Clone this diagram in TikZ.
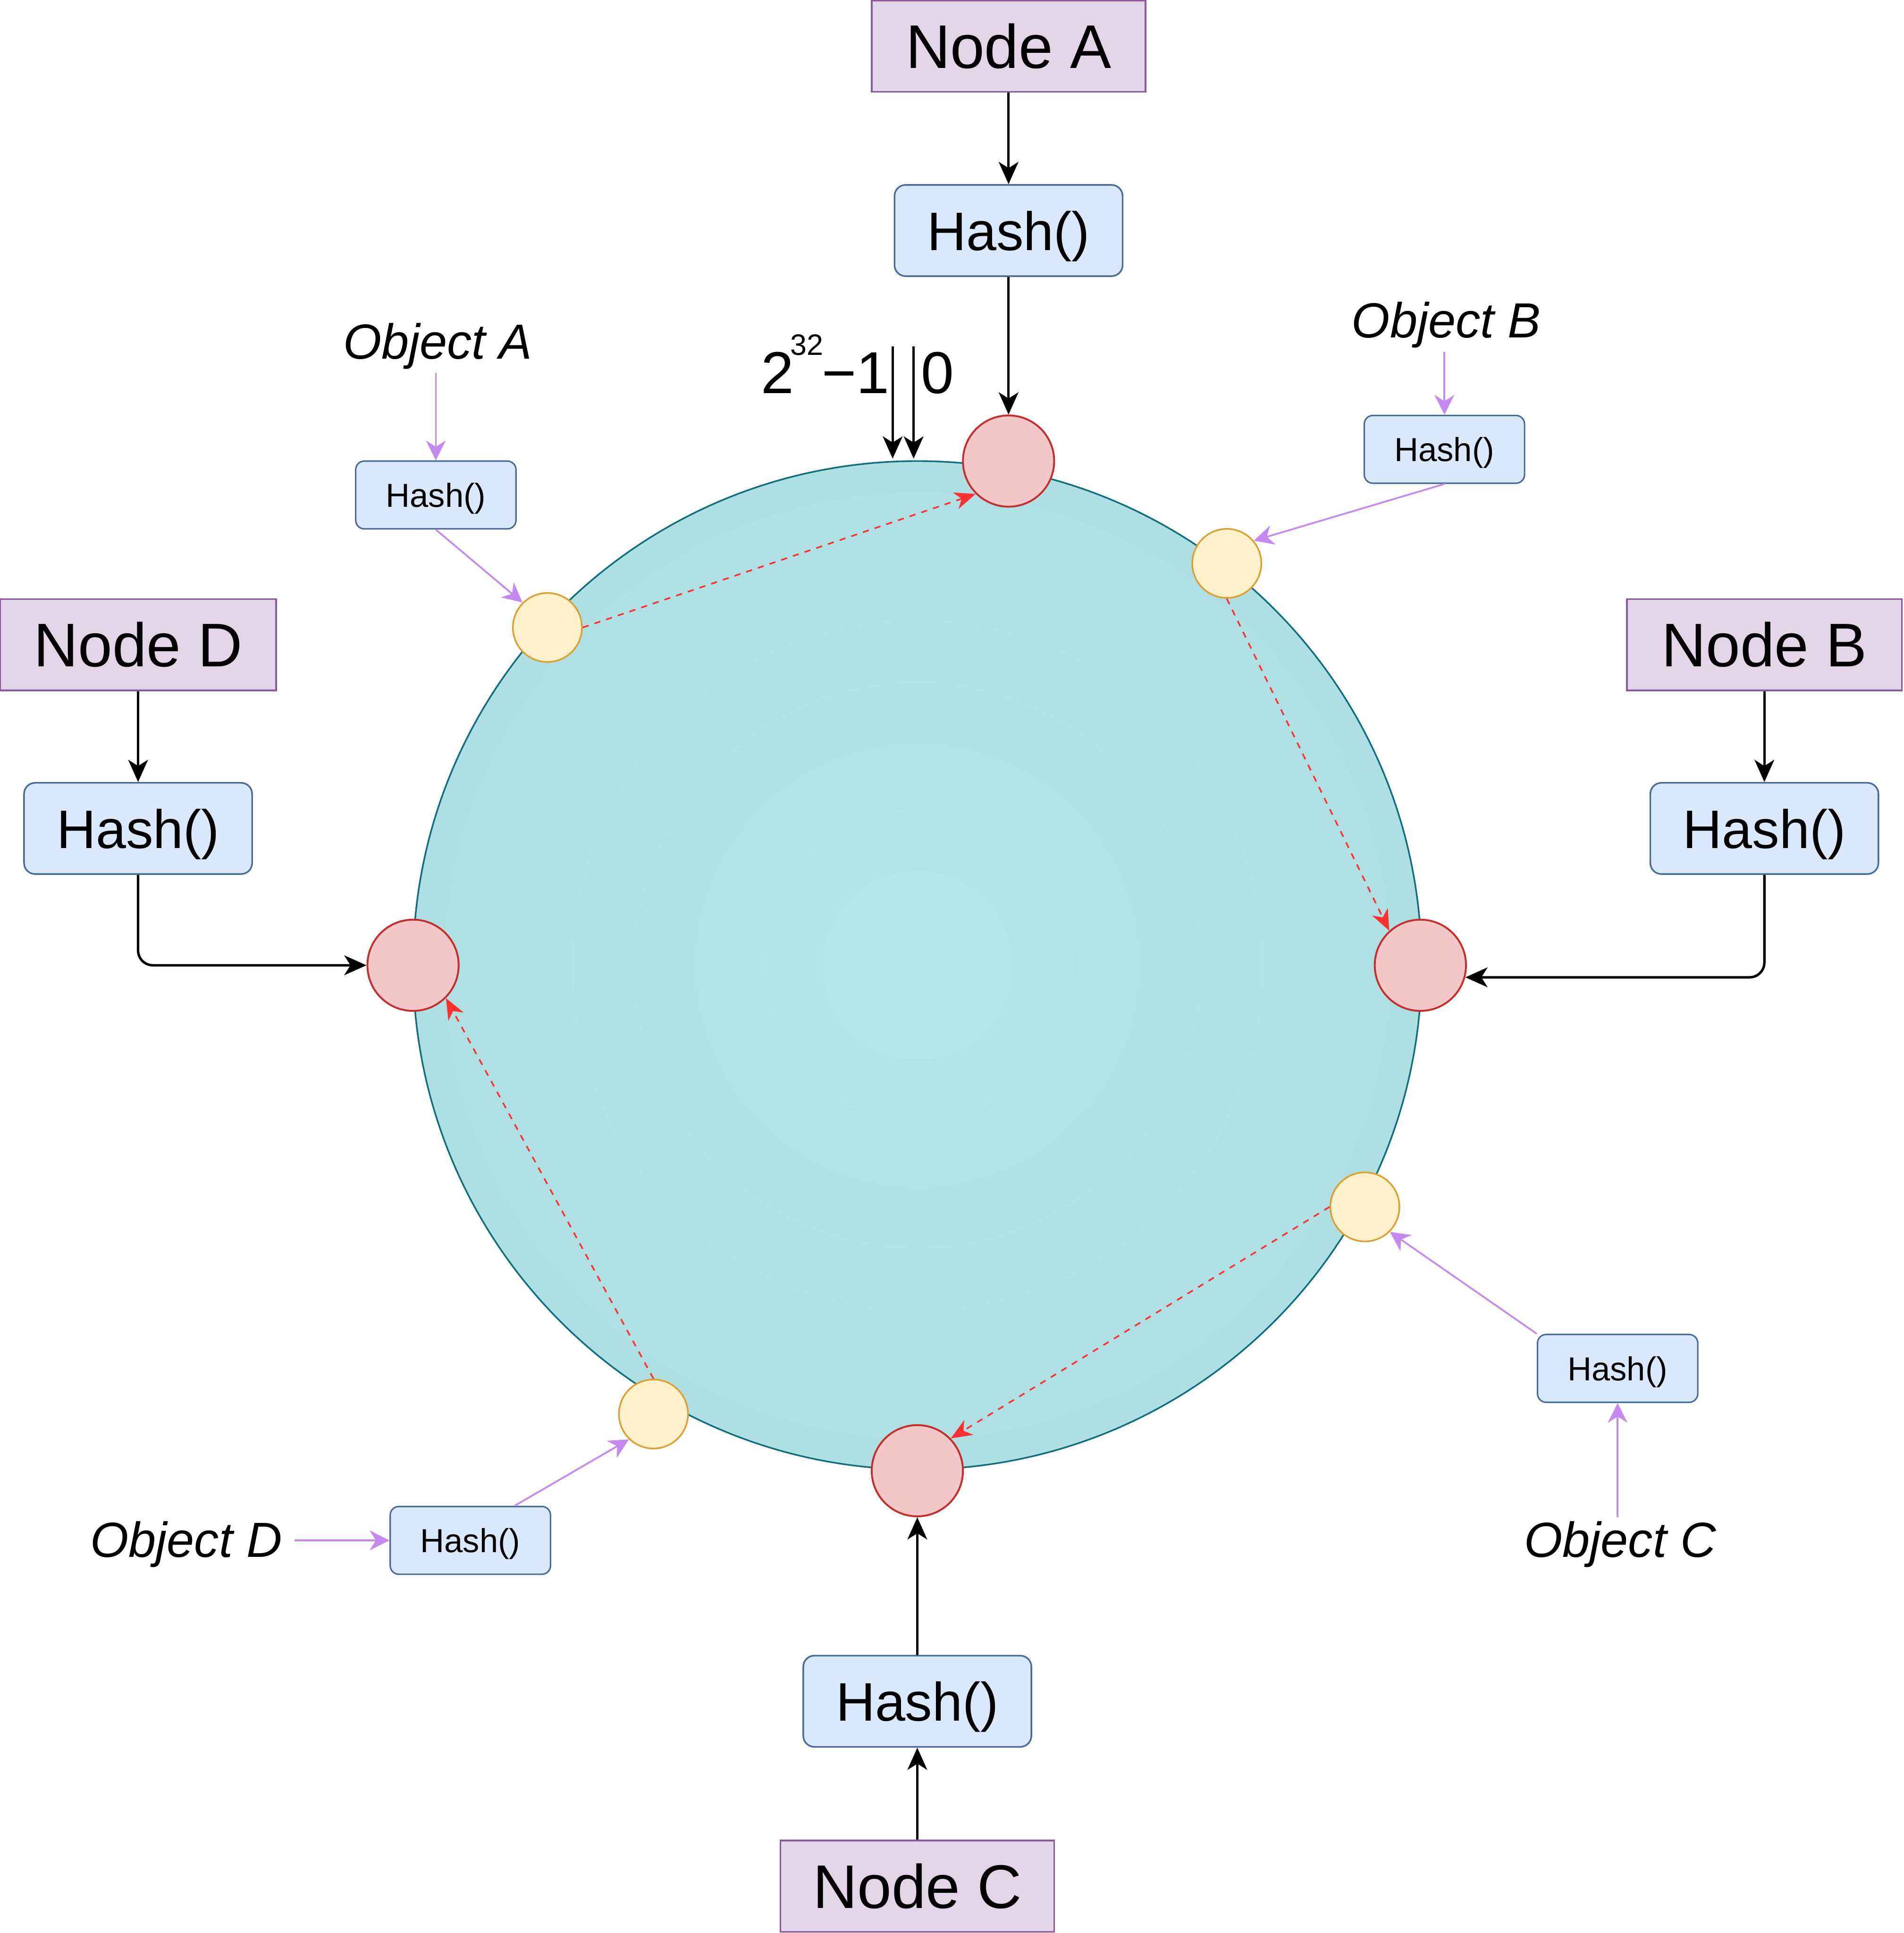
\documentclass[tikz,border=0pt]{standalone}
\usepackage{fontspec}
\setmainfont{Liberation Sans}
\usetikzlibrary{arrows.meta}
\definecolor{ringfillin}{HTML}{B6E8EB}
\definecolor{ringfillout}{HTML}{AEDFE3}
\definecolor{ringline}{HTML}{0E6E7C}
\definecolor{nodefill}{HTML}{E1D5E7}
\definecolor{nodeline}{HTML}{8E5A9E}
\definecolor{hashfill}{HTML}{DAE8FC}
\definecolor{hashline}{HTML}{4A6A9A}
\definecolor{redfill}{HTML}{F4C8C8}
\definecolor{redline}{HTML}{C62E2E}
\definecolor{yelfill}{HTML}{FFF0CC}
\definecolor{yelline}{HTML}{DDA030}
\definecolor{purline}{HTML}{C58AF0}
\definecolor{dashred}{HTML}{FF3030}
\begin{document}
\begin{tikzpicture}[x=1pt,y=-1pt,
  nodebox/.style={draw=nodeline, fill=nodefill, line width=1.3pt, minimum width=222pt, minimum height=74pt, inner sep=0pt, font=\fontsize{50}{60}\selectfont},
  bighash/.style={draw=hashline, fill=hashfill, line width=1.3pt, rounded corners=9pt, minimum width=185pt, minimum height=74pt, inner sep=0pt, text depth=0pt, font=\fontsize{44}{52}\selectfont},
  smallhash/.style={draw=hashline, fill=hashfill, line width=1.2pt, rounded corners=7pt, minimum width=130pt, minimum height=55pt, inner sep=0pt, text depth=0pt, font=\fontsize{27}{32}\selectfont},
  objlabel/.style={inner sep=3pt, font=\fontsize{40}{46}\selectfont\itshape, anchor=base},
  rednode/.style={circle, draw=redline, fill=redfill, line width=1.5pt, minimum size=74pt, inner sep=0pt},
  yelnode/.style={circle, draw=yelline, fill=yelfill, line width=1.3pt, minimum size=56pt, inner sep=0pt},
  blk/.style={draw=black, line width=2pt, -{Stealth[length=18pt,width=16pt,inset=5pt]}},
  pur/.style={draw=purline, line width=1.4pt, -{Stealth[length=16pt,width=16pt,inset=5pt]}},
  reddash/.style={draw=dashred, line width=1.3pt, dash pattern=on 5pt off 5pt, -{Stealth[length=17pt,width=14pt,inset=5pt]}}
]
\useasboundingbox (0,0) rectangle (1544,1568);

% ring
\node[circle, minimum size=818pt, inner sep=0pt, draw=ringline, line width=1.3pt,
      inner color=ringfillin, outer color=ringfillout] (ring) at (744,783) {};

% server nodes
\node[nodebox] (nA) at (818,37.5) {Node A};
\node[nodebox, minimum width=224pt] (nD) at (112,523) {Node D};
\node[nodebox, minimum width=223pt] (nB) at (1431,523) {Node B};
\node[nodebox] (nC) at (744,1530) {Node C};

% big hash boxes
\node[bighash] (hA) at (818,187) {Hash()};
\node[bighash] (hD) at (112,672) {Hash()};
\node[bighash] (hB) at (1431,672) {Hash()};
\node[bighash] (hC) at (744,1380) {Hash()};

% red nodes on ring
\node[rednode] (rA) at (818,374) {};
\node[rednode] (rR) at (1152,783) {};
\node[rednode] (rL) at (335,783) {};
\node[rednode] (rB) at (744,1193) {};

% yellow objects on ring
\node[yelnode] (yA) at (444,509) {};
\node[yelnode] (yB) at (995,457) {};
\node[yelnode] (yC) at (1107,979) {};
\node[yelnode] (yD) at (530,1147) {};

% small hash boxes
\node[smallhash] (sA) at (353.5,401.5) {Hash()};
\node[smallhash] (sB) at (1171.5,364.5) {Hash()};
\node[smallhash] (sC) at (1312,1110) {Hash()};
\node[smallhash] (sD) at (381.5,1249.5) {Hash()};

% object labels
\node[objlabel] (oA) at (355,291) {Object A};
\node[objlabel] (oB) at (1173,274) {Object B};
\node[objlabel] (oC) at (1314,1263) {Object C};
\node[objlabel, inner xsep=10pt] (oD) at (151,1263) {Object D};

% 2^32-1 | 0 label
\node[anchor=base west, inner sep=0pt, font=\fontsize{48}{56}\selectfont] (lbl) at (617,319)
  {2\kern-3pt\raisebox{31pt}{\fontsize{24}{28}\selectfont 32}\kern-1pt−1};
\node[anchor=base west, inner sep=0pt, font=\fontsize{48}{56}\selectfont] (zero) at (747,319) {0};
\coordinate (m1s) at (724,281);
\coordinate (m1e) at (724,372);
\coordinate (m0s) at (741,281);
\coordinate (m0e) at (741,372);
\draw[blk] (m1s) -- (m1e);
\draw[blk] (m0s) -- (m0e);

% black connectors
\draw[blk] (nA) -- (hA);
\draw[blk] (hA) -- (rA);
\draw[blk] (nD) -- (hD);
\draw[blk, rounded corners=12pt] (hD.south) |- (rL.west);
\draw[blk] (nB) -- (hB);
\draw[blk, rounded corners=12pt] (hB.south) |- (rR.-15);
\draw[blk] (nC) -- (hC);
\draw[blk] (hC) -- (rB);

% purple connectors
\draw[pur] (oA.south -| sA.north) -- (sA.north);
\draw[pur] (sA.south) -- (yA.135);
\draw[pur] (oB.south -| sB.north) -- (sB.north);
\draw[pur] (sB.south) -- (yB.40);
\draw[pur] (oC.north -| sC.south) -- (sC.south);
\draw[pur] (sC.north west) -- (yC.-45);
\draw[pur] (oD.east |- sD.west) -- (sD.west);
\draw[pur] (sD.38) -- (yD.-134);

% red dashed connectors
\draw[reddash] (yA.east) -- (rA.-135);
\draw[reddash] (yB.south) -- (rR.132);
\draw[reddash] (yC.west) -- (rB.44);
\draw[reddash] (yD.north) -- (rL.-45);
\end{tikzpicture}
\end{document}
